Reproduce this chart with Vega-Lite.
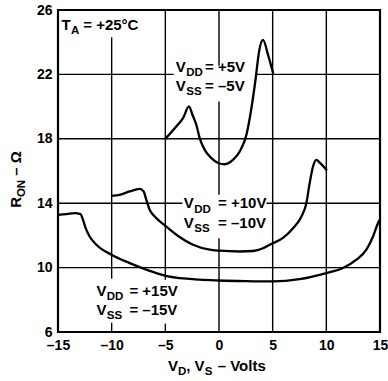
{
  "$schema": "https://vega.github.io/schema/vega-lite/v6.json",
  "autosize": "none",
  "width": 322,
  "height": 322,
  "padding": {"left": 58, "top": 10, "right": 8, "bottom": 49},
  "background": "white",
  "config": {
    "view": {"stroke": "black", "strokeWidth": 2.2},
    "axis": {
      "grid": false,
      "ticks": false,
      "domain": false,
      "title": null,
      "labelFont": "Liberation Sans",
      "labelFontSize": 14,
      "labelFontWeight": "bold",
      "labelColor": "black",
      "labelFlush": false,
      "labelOverlap": false
    }
  },
  "datasets": {
    "curves": [
      {"s": "5", "x": -5.0, "y": 18.0}, {"s": "5", "x": -4.0, "y": 18.75}, {"s": "5", "x": -3.35, "y": 19.28},
      {"s": "5", "x": -2.8, "y": 20.02}, {"s": "5", "x": -2.45, "y": 19.45}, {"s": "5", "x": -2.11, "y": 18.86},
      {"s": "5", "x": -1.8, "y": 18.04}, {"s": "5", "x": -1.33, "y": 17.31}, {"s": "5", "x": -0.71, "y": 16.8},
      {"s": "5", "x": -0.09, "y": 16.5}, {"s": "5", "x": 0.53, "y": 16.42}, {"s": "5", "x": 1.3, "y": 16.69},
      {"s": "5", "x": 1.93, "y": 17.21}, {"s": "5", "x": 2.55, "y": 18.24}, {"s": "5", "x": 3.02, "y": 19.9},
      {"s": "5", "x": 3.42, "y": 21.76}, {"s": "5", "x": 3.73, "y": 23.41}, {"s": "5", "x": 4.1, "y": 24.14},
      {"s": "5", "x": 4.57, "y": 23.21}, {"s": "5", "x": 5.05, "y": 22.05},

      {"s": "10", "x": -10.02, "y": 14.46}, {"s": "10", "x": -9.25, "y": 14.52}, {"s": "10", "x": -8.32, "y": 14.73},
      {"s": "10", "x": -7.39, "y": 14.89}, {"s": "10", "x": -7.02, "y": 14.73}, {"s": "10", "x": -6.77, "y": 14.21},
      {"s": "10", "x": -6.46, "y": 13.59}, {"s": "10", "x": -5.99, "y": 13.17}, {"s": "10", "x": -5.22, "y": 12.72},
      {"s": "10", "x": -3.97, "y": 12.04}, {"s": "10", "x": -2.42, "y": 11.42}, {"s": "10", "x": -0.87, "y": 11.11},
      {"s": "10", "x": 0.0, "y": 11.05}, {"s": "10", "x": 1.93, "y": 11.0}, {"s": "10", "x": 3.17, "y": 11.03},
      {"s": "10", "x": 4.1, "y": 11.2}, {"s": "10", "x": 4.72, "y": 11.42}, {"s": "10", "x": 5.96, "y": 11.85},
      {"s": "10", "x": 6.9, "y": 12.45}, {"s": "10", "x": 7.68, "y": 13.17}, {"s": "10", "x": 8.14, "y": 14.0},
      {"s": "10", "x": 8.45, "y": 15.25}, {"s": "10", "x": 8.76, "y": 16.28}, {"s": "10", "x": 9.07, "y": 16.69},
      {"s": "10", "x": 9.38, "y": 16.52}, {"s": "10", "x": 10.06, "y": 16.03},

      {"s": "15", "x": -15.0, "y": 13.28}, {"s": "15", "x": -14.22, "y": 13.32}, {"s": "15", "x": -13.44, "y": 13.38},
      {"s": "15", "x": -12.91, "y": 13.32}, {"s": "15", "x": -12.67, "y": 12.97}, {"s": "15", "x": -12.42, "y": 12.45},
      {"s": "15", "x": -12.05, "y": 11.93}, {"s": "15", "x": -11.42, "y": 11.42}, {"s": "15", "x": -10.02, "y": 10.8},
      {"s": "15", "x": -8.32, "y": 10.28}, {"s": "15", "x": -6.46, "y": 9.8}, {"s": "15", "x": -4.75, "y": 9.45},
      {"s": "15", "x": -1.8, "y": 9.25}, {"s": "15", "x": 0.0, "y": 9.2}, {"s": "15", "x": 2.5, "y": 9.16},
      {"s": "15", "x": 5.03, "y": 9.14}, {"s": "15", "x": 7.5, "y": 9.28}, {"s": "15", "x": 10.0, "y": 9.66},
      {"s": "15", "x": 11.55, "y": 9.97}, {"s": "15", "x": 12.8, "y": 10.49}, {"s": "15", "x": 13.73, "y": 11.11},
      {"s": "15", "x": 14.35, "y": 11.93}, {"s": "15", "x": 14.81, "y": 12.76}, {"s": "15", "x": 14.97, "y": 12.97}
    ],
    "grid": [
      {"x": -10, "x2": -10, "y": 6, "y2": 6.58},
      {"x": -10, "x2": -10, "y": 9.31, "y2": 24.31},
      {"x": -5, "x2": -5, "y": 6, "y2": 6.52},
      {"x": -5, "x2": -5, "y": 9.25, "y2": 26},
      {"x": 0, "x2": 0, "y": 6, "y2": 11.83},
      {"x": 0, "x2": 0, "y": 14.52, "y2": 20.31},
      {"x": 0, "x2": 0, "y": 22.54, "y2": 26},
      {"x": 5, "x2": 5, "y": 6, "y2": 26},
      {"x": 10, "x2": 10, "y": 6, "y2": 26},
      {"x": -15, "x2": 15, "y": 10, "y2": 10},
      {"x": -15, "x2": -3.41, "y": 14, "y2": 14},
      {"x": 4.42, "x2": 15, "y": 14, "y2": 14},
      {"x": -15, "x2": 15, "y": 18, "y2": 18},
      {"x": -15, "x2": -4.22, "y": 22, "y2": 22},
      {"x": 3.42, "x2": 15, "y": 22, "y2": 22}
    ],
    "labels": [
      {"x": -14.68, "y": 24.74, "t": "T"},
      {"x": -12.65, "y": 24.74, "t": "= +25°C"},
      {"x": -4.03, "y": 22.13, "t": "V"},
      {"x": -1.3, "y": 22.13, "t": "= +5V"},
      {"x": -4.03, "y": 20.97, "t": "V"},
      {"x": -1.3, "y": 20.97, "t": "= –5V"},
      {"x": -3.29, "y": 13.68, "t": "V"},
      {"x": -0.09, "y": 13.68, "t": "= +10V"},
      {"x": -3.29, "y": 12.47, "t": "V"},
      {"x": -0.09, "y": 12.47, "t": "= –10V"},
      {"x": -11.42, "y": 8.25, "t": "V"},
      {"x": -8.35, "y": 8.25, "t": "= +15V"},
      {"x": -11.42, "y": 7.07, "t": "V"},
      {"x": -8.35, "y": 7.07, "t": "= –15V"},
      {"x": -4.75, "y": 3.555, "t": "V"},
      {"x": -3.05, "y": 3.555, "t": ", V"},
      {"x": -0.12, "y": 3.555, "t": "– Volts"}
    ],
    "subs": [
      {"x": -13.79, "y": 24.48, "t": "A"},
      {"x": -3.055, "y": 21.87, "t": "DD"},
      {"x": -3.055, "y": 20.71, "t": "SS"},
      {"x": -2.31, "y": 13.42, "t": "DD"},
      {"x": -2.31, "y": 12.21, "t": "SS"},
      {"x": -10.46, "y": 7.99, "t": "DD"},
      {"x": -10.46, "y": 6.81, "t": "SS"},
      {"x": -3.82, "y": 3.31, "t": "D"},
      {"x": -1.33, "y": 3.31, "t": "S"}
    ],
    "ytitle": [
      {"x": -18.47, "y": 13.71, "t": "R"},
      {"x": -18.47, "y": 15.71, "t": "– Ω"}
    ],
    "ytitleSub": [
      {"x": -18.1, "y": 14.38, "t": "ON"}
    ]
  },
  "encoding": {
    "x": {
      "field": "x",
      "type": "quantitative",
      "scale": {"domain": [-15, 15], "nice": false, "zero": false},
      "axis": {
        "values": [-15, -10, -5, 0, 5, 10, 15],
        "labelPadding": 6,
        "labelExpr": "datum.value < 0 ? '–' + abs(datum.value) : '' + datum.value"
      }
    },
    "y": {
      "field": "y",
      "type": "quantitative",
      "scale": {"domain": [6, 26], "nice": false, "zero": false},
      "axis": {"values": [6, 10, 14, 18, 22, 26], "labelPadding": 6}
    }
  },
  "layer": [
    {
      "data": {"name": "grid"},
      "mark": {"type": "rule", "color": "black", "strokeWidth": 1.4},
      "encoding": {"x2": {"field": "x2"}, "y2": {"field": "y2"}}
    },
    {
      "data": {"name": "curves"},
      "mark": {"type": "line", "color": "black", "strokeWidth": 2.3, "interpolate": "monotone"},
      "encoding": {"detail": {"field": "s", "type": "nominal"}}
    },
    {
      "data": {"name": "labels"},
      "mark": {"type": "text", "font": "Liberation Sans", "fontSize": 15, "fontWeight": "bold", "color": "black", "align": "left", "baseline": "alphabetic"},
      "encoding": {"text": {"field": "t"}}
    },
    {
      "data": {"name": "subs"},
      "mark": {"type": "text", "font": "Liberation Sans", "fontSize": 11.5, "fontWeight": "bold", "color": "black", "align": "left", "baseline": "alphabetic"},
      "encoding": {"text": {"field": "t"}}
    },
    {
      "data": {"name": "ytitle"},
      "mark": {"type": "text", "font": "Liberation Sans", "fontSize": 15, "fontWeight": "bold", "color": "black", "align": "left", "baseline": "alphabetic", "angle": 270},
      "encoding": {"text": {"field": "t"}}
    },
    {
      "data": {"name": "ytitleSub"},
      "mark": {"type": "text", "font": "Liberation Sans", "fontSize": 11.5, "fontWeight": "bold", "color": "black", "align": "left", "baseline": "alphabetic", "angle": 270},
      "encoding": {"text": {"field": "t"}}
    }
  ]
}
